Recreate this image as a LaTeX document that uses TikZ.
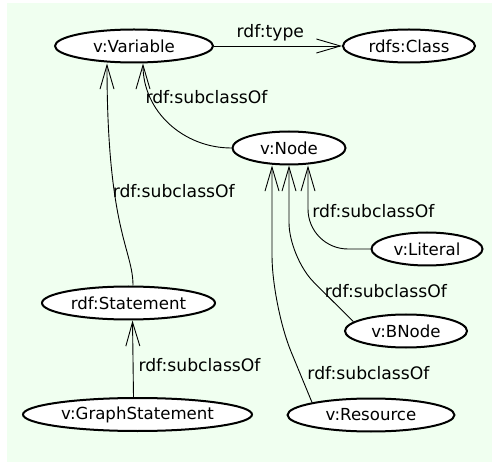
\documentclass[tikz,border=0pt]{standalone}
\usepackage{fontspec}
\setmainfont{DejaVu Sans}
\usetikzlibrary{arrows.meta,shapes.geometric}
\definecolor{bggreen}{RGB}{240,255,240}

\begin{document}
\begin{tikzpicture}[x=1pt, y=-1pt,
  cls/.style={ellipse, draw, line width=2pt, fill=white, inner sep=0pt, minimum height=33pt, font=\fontsize{16.6}{20}\selectfont},
  sub/.style={-{Straight Barb[length=24pt,width=14pt]}, line width=0.9pt},
  lbl/.style={inner sep=0pt, font=\fontsize{17.2}{20}\selectfont}]
\useasboundingbox (0,0) rectangle (493,465);
\fill[bggreen] (7,3) rectangle (492,462);
% classes
\node[cls, minimum width=158pt] (var) at (134,46) {v:Variable};
\node[cls, minimum width=132pt] (cls) at (409,46) {rdfs:Class};
\node[cls, minimum width=113pt] (nd) at (289,148) {v:Node};
\node[cls, minimum width=173pt] (st) at (128.5,303) {rdf:Statement};
\node[cls, minimum width=229pt] (gs) at (137.5,414.5) {v:GraphStatement};
\node[cls, minimum width=111pt] (lit) at (427,249) {v:Literal};
\node[cls, minimum width=122pt] (bn) at (406,331) {v:BNode};
\node[cls, minimum width=167pt] (rs) at (371,415) {v:Resource};
% tips under v:Node
\coordinate (ndL) at ([xshift=-17pt]nd.south);
\coordinate (ndM) at (nd.south);
\coordinate (ndR) at ([xshift=19pt]nd.south);
% properties
\draw[sub] (var.east) -- node[lbl, pos=0.44, above=4pt] {rdf:type} (cls.west);
\draw[sub] (nd.west) .. controls +(-48,0) and +(0,48) .. ([xshift=9pt]var.south)
  node[lbl, pos=0.75, right=-5pt] {rdf:subclassOf};
\draw[sub] ([xshift=4.5pt]st.north) .. controls +(0,-36) and +(0,167) .. ([xshift=-27pt]var.south)
  node[lbl, pos=0.65, right=-2pt] {rdf:subclassOf};
\draw[sub] ([xshift=-4pt]gs.north) -- node[lbl, pos=0.42, right=5pt] {rdf:subclassOf} ([xshift=4pt]st.south);
\draw[sub, rounded corners=40pt] (lit.west) -- (ndR |- lit.west) -- node[lbl, pos=0.45, right=4pt] {rdf:subclassOf} (ndR);
\draw[sub, rounded corners=35pt] (bn.170) -- node[lbl, pos=0.48, right=2pt] {rdf:subclassOf} ([yshift=-92pt]ndM) -- (ndM);
\draw[sub, rounded corners=50pt] (rs.168) -- node[lbl, pos=0.3, right=7pt] {rdf:subclassOf} ([yshift=-140pt]ndL) -- (ndL);
\end{tikzpicture}
\end{document}
